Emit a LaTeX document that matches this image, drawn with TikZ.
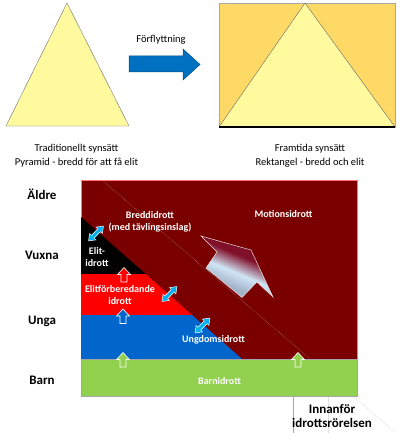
\documentclass[tikz,border=0pt]{standalone}
\usepackage{fontspec}
\setmainfont{Carlito}
\usetikzlibrary{calc}

\definecolor{paleyellow}{HTML}{FFFA9E}
\definecolor{goldfill}{HTML}{FFD966}
\definecolor{moveblue}{HTML}{0070C0}
\definecolor{maroonbg}{HTML}{7A0000}
\definecolor{elitred}{HTML}{FF0000}
\definecolor{youthblue}{HTML}{0066CC}
\definecolor{kidgreen}{HTML}{92D050}
\definecolor{skyblue}{HTML}{00B0F0}
\definecolor{paleblue}{HTML}{CFE5F5}
\definecolor{greyblue}{HTML}{A3B3C8}
\definecolor{arrowtip}{HTML}{80102A}

\pgfdeclareverticalshading{arrowfade}{100bp}{color(0bp)=(greyblue); color(34bp)=(greyblue);
    color(45.5bp)=(paleblue); color(59bp)=(arrowtip); color(100bp)=(arrowtip)}

\tikzset{
    age/.style={font=\fontsize{13}{14}\selectfont\bfseries, anchor=base},
    zone/.style={font=\fontsize{10}{12}\selectfont\bfseries, text=white, align=center, inner sep=0pt},
    caption/.style={font=\fontsize{10.5}{14.3}\selectfont, align=center, inner sep=0pt},
    pics/uparrow/.style={code={
        \filldraw[draw=white, line width=0.6pt, fill=#1]
            (-3,0) -- (3,0) -- (3,-7.5) -- (6.5,-7.5) -- (0,-14.5)
            -- (-6.5,-7.5) -- (-3,-7.5) -- cycle;
    }},
    pics/twoway/.style={code={
        \filldraw[draw=white, line width=0.5pt, fill=skyblue]
            (-10.5,0) -- (-4.5,4.5) -- (-4.5,2) -- (4.5,2) -- (4.5,4.5) -- (10.5,0)
            -- (4.5,-4.5) -- (4.5,-2) -- (-4.5,-2) -- (-4.5,-4.5) -- cycle;
    }}
}

\begin{document}
\begin{tikzpicture}[x=1pt, y=-1pt]
    \useasboundingbox (0,0) rectangle (400,433);

    \filldraw[fill=paleyellow, draw=black!55, line width=0.4pt]
        (67,3) -- (129,126) -- (6,126) -- cycle;

    \filldraw[fill=moveblue, draw=moveblue!70!black, line width=0.5pt]
        (129,56) -- (183,56) -- (183,49) -- (200,64.5) -- (183,80) -- (183,72) -- (129,72) -- cycle;
    \node[caption] (move) at (161,40) {Förflyttning};

    \filldraw[fill=goldfill, draw=gray!70, line width=0.4pt] (219,3) rectangle (395,127);
    \filldraw[fill=paleyellow, draw=black!60, line width=0.4pt]
        (305,3) -- (395,127) -- (219,127) -- cycle;
    \draw[black, line width=1.2pt] (219,127) -- (395,127);

    \node[caption] (trad) at (76.5,156) {Traditionellt synsätt\\Pyramid - bredd för att få elit};
    \node[caption] (fut) at (310,156) {Framtida synsätt\\Rektangel - bredd och elit};

    \node[age] (aldre) at (42,199) {Äldre};
    \node[age] (vuxna) at (42,259) {Vuxna};
    \node[age] (unga) at (42,324) {Unga};
    \node[age] (barn) at (42,384) {Barn};

    \filldraw[fill=maroonbg, draw=red!55!white, line width=0.5pt] (81,180) rectangle (357,359);
    \draw[gray!70, line width=0.5pt] (81,180) -- (81,359);

    \coordinate (dtop) at (81,217);
    \coordinate (dbot) at (242,359);
    \begin{scope}
        \clip (dtop) -- (dbot) -- (81,359) -- cycle;
        \fill[black] (81,180) rectangle (357,274);
        \fill[elitred] (81,274) rectangle (357,315);
        \fill[youthblue] (81,315) rectangle (357,359);
    \end{scope}

    \coordinate (ltop) at (103,181);
    \coordinate (lbot) at (395,432);
    \draw[gray!60, line width=0.4pt, densely dotted] (ltop) -- (lbot);

    \filldraw[fill=kidgreen, draw=gray!70, line width=0.5pt] (81,359) rectangle (357,396);

    \shadedraw[shading=arrowfade, shading angle=-23, draw=white!85!maroonbg, line width=0.5pt]
        (201,236) -- (251,250) -- (273,297) -- (257,282) -- (242,297.5) -- (206,268) -- (217,252) -- cycle;

    \pic at (124,282) {uparrow=elitred};
    \pic at (123,323.5) {uparrow=youthblue};
    \pic at (123,367) {uparrow=kidgreen};
    \pic at (298,367) {uparrow=kidgreen};

    \pic[rotate=45] at (96,233.5) {twoway};
    \pic[rotate=45] at (169.5,294) {twoway};
    \pic[rotate=45] at (202.5,325.5) {twoway};

    \node[zone] (bredd) at (150,221.5) {Breddidrott\\(med tävlingsinslag)};
    \node[zone] (motion) at (283.5,214.5) {Motionsidrott};
    \node[zone] (elit) at (97,257) {Elit-\\idrott};
    \node[zone] (prep) at (120,295) {Elitförberedande\\idrott};
    \node[zone] (ungdom) at (213.5,340) {Ungdomsidrott};
    \node[zone] (kids) at (219.5,381) {Barnidrott};

    \draw[gray!70, line width=0.5pt] (293,397) -- (293,433);
    \draw[gray!25, line width=0.4pt] (328,397) -- (328,433);
    \node[font=\fontsize{13}{14}\selectfont\bfseries, align=center, inner sep=0pt] (inside) at (332,416)
        {Innanför\\idrottsrörelsen};
\end{tikzpicture}
\end{document}
